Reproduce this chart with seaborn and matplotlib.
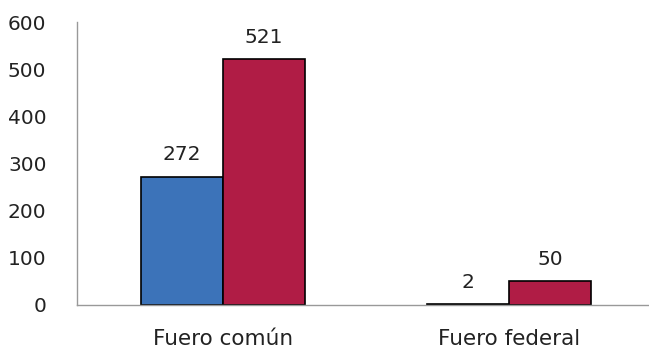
import pandas as pd
import matplotlib
matplotlib.use("Agg")
import matplotlib.pyplot as plt
import seaborn as sns

categories = ["Fuero común", "Fuero federal"]
series = ["Serie 1", "Serie 2"]
values_1 = [272, 2]
values_2 = [521, 50]
colors = ["#3C73B9", "#B01C45"]

df = pd.DataFrame({
    "categoria": categories * 2,
    "serie": [series[0]] * 2 + [series[1]] * 2,
    "valor": values_1 + values_2,
})

sns.set_theme(style="white")
plt.rcParams["font.family"] = ["DejaVu Sans"]

fig = plt.figure(figsize=(6.49, 3.51), dpi=100)
ax = fig.add_axes([77 / 649, 46 / 351, 572 / 649, 283 / 351])

sns.barplot(data=df, x="categoria", y="valor", hue="serie", palette=colors,
            saturation=1, width=0.575, edgecolor="black", linewidth=1.2,
            legend=False, ax=ax)

for cont in ax.containers:
    ax.bar_label(cont, padding=9, fontsize=14.5, color="#222222")

ax.set_ylim(0, 600)
ax.set_yticks(range(0, 601, 100))
ax.set_xlim(-0.51, 1.49)
ax.set_xlabel("")
ax.set_ylabel("")
ax.tick_params(axis="y", length=0, pad=22, labelsize=14.5, labelcolor="#222222")
ax.tick_params(axis="x", length=0, pad=17, labelsize=15.5, labelcolor="#222222")
for s in ["top", "right"]:
    ax.spines[s].set_visible(False)
for s in ["left", "bottom"]:
    ax.spines[s].set_color("#999999")
    ax.spines[s].set_linewidth(1)

fig.savefig("out.png", dpi=100)
